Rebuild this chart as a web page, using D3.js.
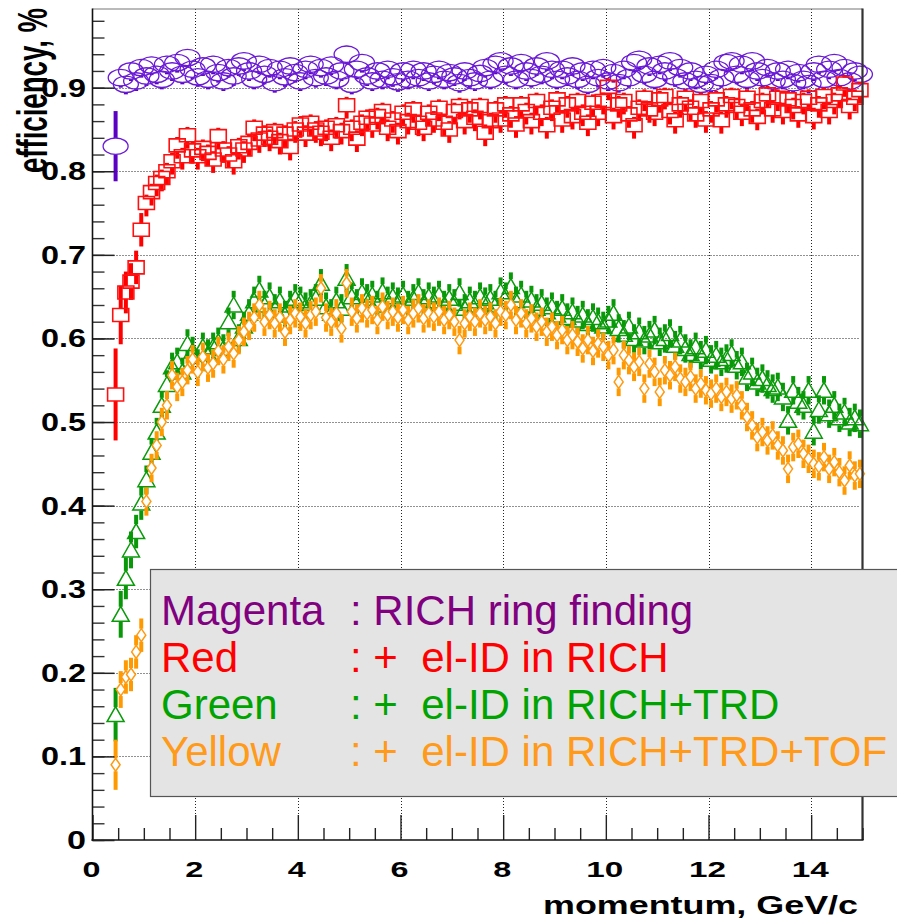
<!DOCTYPE html>
<html><head><meta charset="utf-8">
<script src="https://cdn.jsdelivr.net/npm/d3@7"></script>
<style>body{margin:0;background:#fff;} svg{display:block;} text{font-family:"Liberation Sans",Arial,Helvetica,sans-serif;}</style>
</head><body><svg id="c" width="897" height="921"></svg>
<script>
// ---------- data ----------
const momentum = [
0.45,0.55,0.65,0.75,0.85,0.95,1.05,1.15,1.25,1.35,
1.45,1.55,1.65,1.75,1.85,1.95,2.05,2.15,2.25,2.35,
2.45,2.55,2.65,2.75,2.85,2.95,3.05,3.15,3.25,3.35,
3.45,3.55,3.65,3.75,3.85,3.95,4.05,4.15,4.25,4.35,
4.45,4.55,4.65,4.75,4.85,4.95,5.05,5.15,5.25,5.35,
5.45,5.55,5.65,5.75,5.85,5.95,6.05,6.15,6.25,6.35,
6.45,6.55,6.65,6.75,6.85,6.95,7.05,7.15,7.25,7.35,
7.45,7.55,7.65,7.75,7.85,7.95,8.05,8.15,8.25,8.35,
8.45,8.55,8.65,8.75,8.85,8.95,9.05,9.15,9.25,9.35,
9.45,9.55,9.65,9.75,9.85,9.95,10.05,10.15,10.25,10.35,
10.45,10.55,10.65,10.75,10.85,10.95,11.05,11.15,11.25,11.35,
11.45,11.55,11.65,11.75,11.85,11.95,12.05,12.15,12.25,12.35,
12.45,12.55,12.65,12.75,12.85,12.95,13.05,13.15,13.25,13.35,
13.45,13.55,13.65,13.75,13.85,13.95,14.05,14.15,14.25,14.35,
14.45,14.55,14.65,14.75,14.85,14.95];

const effRingFinding = [
0.830,0.912,0.904,0.920,0.908,0.924,0.914,0.927,0.916,0.910,
0.928,0.920,0.930,0.916,0.936,0.922,0.913,0.926,0.910,0.928,
0.918,0.908,0.924,0.914,0.926,0.932,0.920,0.910,0.928,0.916,
0.924,0.906,0.922,0.913,0.926,0.918,0.908,0.922,0.928,0.912,
0.924,0.914,0.927,0.910,0.920,0.940,0.904,0.922,0.930,0.914,
0.908,0.920,0.910,0.922,0.913,0.907,0.920,0.910,0.922,0.912,
0.920,0.908,0.916,0.922,0.910,0.918,0.914,0.906,0.920,0.912,
0.908,0.917,0.924,0.910,0.928,0.932,0.916,0.926,0.910,0.930,
0.920,0.912,0.926,0.916,0.932,0.922,0.910,0.922,0.914,0.926,
0.910,0.920,0.904,0.922,0.912,0.924,0.908,0.918,0.906,0.922,
0.912,0.930,0.934,0.916,0.926,0.910,0.928,0.920,0.932,0.913,
0.924,0.908,0.920,0.910,0.904,0.916,0.906,0.922,0.912,0.930,
0.932,0.916,0.928,0.910,0.932,0.920,0.912,0.924,0.908,0.920,
0.910,0.922,0.906,0.918,0.910,0.905,0.920,0.928,0.910,0.922,
0.930,0.912,0.924,0.908,0.920,0.916];

const effRich = [
0.533,0.628,0.655,0.668,0.685,0.730,0.762,0.775,0.786,0.792,
0.800,0.812,0.831,0.818,0.843,0.825,0.818,0.828,0.822,0.814,
0.842,0.826,0.820,0.812,0.830,0.826,0.834,0.852,0.838,0.845,
0.840,0.848,0.836,0.845,0.829,0.850,0.856,0.845,0.858,0.850,
0.846,0.852,0.840,0.855,0.848,0.879,0.852,0.839,0.858,0.864,
0.856,0.866,0.872,0.852,0.862,0.848,0.870,0.860,0.874,0.858,
0.852,0.870,0.862,0.876,0.858,0.850,0.872,0.878,0.860,0.874,
0.864,0.878,0.846,0.860,0.874,0.862,0.880,0.868,0.856,0.880,
0.872,0.860,0.884,0.870,0.855,0.876,0.886,0.862,0.880,0.866,
0.884,0.870,0.858,0.882,0.870,0.884,0.901,0.866,0.880,0.884,
0.868,0.855,0.876,0.888,0.874,0.870,0.886,0.890,0.872,0.861,
0.880,0.888,0.876,0.868,0.884,0.862,0.874,0.886,0.861,0.880,
0.890,0.878,0.870,0.888,0.874,0.865,0.884,0.892,0.874,0.888,
0.872,0.886,0.878,0.868,0.884,0.888,0.866,0.880,0.890,0.872,
0.884,0.892,0.905,0.878,0.888,0.897];

const effRichTrd = [
0.150,0.270,0.313,0.347,0.369,0.403,0.431,0.464,0.488,0.520,
0.545,0.566,0.572,0.560,0.594,0.585,0.570,0.590,0.582,0.590,
0.596,0.588,0.620,0.640,0.600,0.615,0.630,0.645,0.658,0.640,
0.650,0.636,0.645,0.628,0.640,0.648,0.645,0.638,0.642,0.648,
0.666,0.638,0.630,0.645,0.636,0.672,0.650,0.642,0.655,0.648,
0.652,0.640,0.656,0.645,0.650,0.644,0.652,0.640,0.648,0.655,
0.642,0.650,0.645,0.652,0.640,0.648,0.642,0.655,0.636,0.645,
0.640,0.650,0.644,0.648,0.640,0.656,0.650,0.662,0.645,0.652,
0.640,0.646,0.636,0.642,0.632,0.638,0.628,0.636,0.625,0.632,
0.622,0.628,0.618,0.625,0.620,0.615,0.622,0.630,0.612,0.605,
0.615,0.600,0.608,0.598,0.604,0.610,0.596,0.600,0.606,0.592,
0.598,0.588,0.582,0.590,0.580,0.586,0.575,0.580,0.572,0.576,
0.582,0.568,0.572,0.554,0.560,0.548,0.552,0.545,0.540,0.542,
0.530,0.502,0.538,0.525,0.520,0.538,0.489,0.515,0.538,0.510,
0.520,0.505,0.512,0.500,0.505,0.498];

const effRichTrdTof = [
0.090,0.180,0.195,0.198,0.225,0.245,0.405,0.445,0.472,0.500,
0.520,0.556,0.542,0.548,0.562,0.575,0.560,0.578,0.565,0.570,
0.585,0.575,0.590,0.582,0.598,0.608,0.615,0.625,0.640,0.620,
0.628,0.618,0.625,0.608,0.622,0.630,0.626,0.618,0.628,0.632,
0.660,0.625,0.620,0.630,0.612,0.666,0.632,0.624,0.636,0.630,
0.634,0.622,0.638,0.628,0.632,0.625,0.634,0.622,0.630,0.636,
0.624,0.630,0.626,0.632,0.622,0.628,0.620,0.598,0.618,0.626,
0.620,0.630,0.622,0.626,0.618,0.632,0.628,0.640,0.622,0.630,
0.618,0.624,0.614,0.620,0.608,0.614,0.604,0.610,0.598,0.604,
0.596,0.588,0.598,0.585,0.594,0.590,0.580,0.586,0.548,0.580,
0.574,0.566,0.572,0.540,0.570,0.560,0.536,0.562,0.556,0.566,
0.552,0.548,0.554,0.540,0.546,0.538,0.534,0.540,0.530,0.536,
0.528,0.532,0.520,0.506,0.496,0.482,0.488,0.478,0.484,0.472,
0.466,0.444,0.470,0.474,0.462,0.456,0.450,0.447,0.458,0.444,
0.452,0.440,0.430,0.448,0.436,0.438];

// statistical errors: explicit values for the first (low-momentum) bins, then typical [low, high]
const errRingFindingFirst = [0.042];
const errRingFindingTypical = [0.012, 0.010];
const errRichFirst = [0.055, 0.035, 0.025, 0.022, 0.02, 0.02];
const errRichTypical = [0.016, 0.010];
const errRichTrdFirst = [0.032, 0.028, 0.025, 0.022, 0.02, 0.02];
const errRichTrdTypical = [0.017, 0.017];
const errRichTrdTofFirst = [0.03, 0.022, 0.02, 0.02, 0.02, 0.02];
const errRichTrdTofTypical = [0.017, 0.017];

const xTickLabels = [0, 2, 4, 6, 8, 10, 12, 14];
const yTickLabels = [0, 0.1, 0.2, 0.3, 0.4, 0.5, 0.6, 0.7, 0.8, 0.9];
const legendNames = ["Magenta", "Red", "Green", "Yellow"];
const legendTexts = [": RICH ring finding", ": +  el-ID in RICH", ": +  el-ID in RICH+TRD", ": +  el-ID in RICH+TRD+TOF"];

// ---------- drawing ----------
const svg = d3.select("#c");
const X0 = 92.5, X1 = 862.5, Y0 = 840, Y1 = 9;
const x = d3.scaleLinear([0, 15], [X0, X1]);
const y = d3.scaleLinear([0, 0.9941], [Y0, Y1]);

// grid
const grid = svg.append("g").attr("stroke", "#222").attr("stroke-width", 1).attr("stroke-dasharray", "1,2");
grid.selectAll(".gx").data(xTickLabels.filter(v => v > 0)).join("line")
  .attr("x1", d => Math.round(x(d)) + 0.5).attr("x2", d => Math.round(x(d)) + 0.5)
  .attr("y1", Y1).attr("y2", Y0);
grid.selectAll(".gy").data(yTickLabels.filter(v => v > 0)).join("line")
  .attr("y1", d => Math.round(y(d)) + 0.5).attr("y2", d => Math.round(y(d)) + 0.5)
  .attr("x1", X0).attr("x2", X1 - 4);

// markers
const shapes = {
  ellipse: (cx, cy) => `M${cx-12.5},${cy}A12.5,8.2 0 1,0 ${cx+12.5},${cy}A12.5,8.2 0 1,0 ${cx-12.5},${cy}Z`,
  square: (cx, cy) => `M${cx-8},${cy-6.5}h16v13h-16Z`,
  triangle: (cx, cy) => `M${cx},${cy-8}L${cx+8.5},${cy+7}L${cx-8.5},${cy+7}Z`,
  diamond: (cx, cy) => `M${cx},${cy-6.5}L${cx+4.5},${cy}L${cx},${cy+6.5}L${cx-4.5},${cy}Z`
};
const series = [
  {vals: effRingFinding, first: errRingFindingFirst, typ: errRingFindingTypical, color: "#6a1ad6", bar: "#5c00c4", shape: "ellipse", half: 8.2, sw: 1.3, fill: "none"},
  {vals: effRich, first: errRichFirst, typ: errRichTypical, color: "#ff1010", bar: "#ff0000", shape: "square", half: 6.5, sw: 1.6, fill: "none"},
  {vals: effRichTrd, first: errRichTrdFirst, typ: errRichTrdTypical, color: "#0a9a0a", bar: "#089808", shape: "triangle", half: 7.5, sw: 1.5, fill: "none"},
  {vals: effRichTrdTof, first: errRichTrdTofFirst, typ: errRichTrdTofTypical, color: "#ff9a10", bar: "#ff9900", shape: "diamond", half: 6.5, sw: 1.5, fill: "#fff"}
];

series.forEach(s => {
  const pts = s.vals.map((v, i) => {
    const lo = i < s.first.length ? s.first[i] : s.typ[0];
    const hi = i < s.first.length ? s.first[i] : s.typ[1];
    return {px: x(momentum[i]), py: y(v), top: y(v + hi), bot: y(v - lo)};
  });
  const g = svg.append("g");
  g.selectAll("line.up").data(pts.filter(p => p.py - p.top > s.half)).join("line")
    .attr("x1", p => p.px).attr("x2", p => p.px).attr("y1", p => p.top).attr("y2", p => p.py - s.half)
    .attr("stroke", s.bar).attr("stroke-width", 4);
  g.selectAll("line.dn").data(pts.filter(p => p.bot - p.py > s.half)).join("line")
    .attr("x1", p => p.px).attr("x2", p => p.px).attr("y1", p => p.py + s.half).attr("y2", p => p.bot)
    .attr("stroke", s.bar).attr("stroke-width", 4);
  g.selectAll("path").data(pts).join("path")
    .attr("d", p => shapes[s.shape](p.px, p.py))
    .attr("fill", s.fill).attr("stroke", s.color).attr("stroke-width", s.sw);
});

// frame
svg.append("line").attr("x1", X0).attr("x2", X1).attr("y1", Y1).attr("y2", Y1).attr("stroke", "#777").attr("stroke-width", 1.2);
svg.append("line").attr("x1", X1).attr("x2", X1).attr("y1", Y1 - 0.5).attr("y2", Y0).attr("stroke", "#333").attr("stroke-width", 2.2);

// x axis (ticks inside)
const xMinor = d3.range(0, 15.01, 0.5);
svg.append("g").attr("transform", `translate(0,${Y0})`)
  .call(d3.axisTop(x).tickValues(xMinor.filter(v => v % 2 !== 0)).tickSize(12).tickFormat(""))
  .call(g => g.select(".domain").remove())
  .selectAll("line").attr("stroke", "#222").attr("stroke-width", 1.4);
svg.append("g").attr("transform", `translate(0,${Y0})`)
  .call(d3.axisTop(x).tickValues(xTickLabels).tickSize(25).tickFormat(""))
  .call(g => g.select(".domain").remove())
  .selectAll("line").attr("stroke", "#222").attr("stroke-width", 1.4);
svg.append("line").attr("x1", X0 - 1).attr("x2", X1 + 1).attr("y1", Y0).attr("y2", Y0).attr("stroke", "#111").attr("stroke-width", 1.6);

// y axis
const yMinor = d3.range(0, 0.99, 0.02);
svg.append("g").attr("transform", `translate(${X0},0)`)
  .call(d3.axisRight(y).tickValues(yMinor).tickSize(12).tickFormat(""))
  .call(g => g.select(".domain").remove())
  .selectAll("line").attr("stroke", "#333").attr("stroke-width", 1.4);
svg.append("g").attr("transform", `translate(${X0},0)`)
  .call(d3.axisRight(y).tickValues(yTickLabels).tickSize(22).tickFormat(""))
  .call(g => g.select(".domain").remove())
  .selectAll("line").attr("stroke", "#222").attr("stroke-width", 1.5);
svg.append("line").attr("x1", X0).attr("x2", X0).attr("y1", Y1 - 0.5).attr("y2", Y0 + 0.8).attr("stroke", "#111").attr("stroke-width", 1.6);

// tick labels
svg.append("g").selectAll("text").data(yTickLabels).join("text")
  .attr("x", 86).attr("y", d => y(d) + 9)
  .attr("text-anchor", "end").attr("font-size", 25).attr("font-weight", "bold")
  .attr("textLength", d => d === 0 ? 19 : 45).attr("lengthAdjust", "spacingAndGlyphs")
  .text(d => d === 0 ? "0" : d3.format(".1f")(d));
svg.append("g").selectAll("text").data(xTickLabels).join("text")
  .attr("x", d => x(d) - 1).attr("y", 877)
  .attr("text-anchor", "middle").attr("font-size", 22).attr("font-weight", "bold")
  .attr("textLength", d => d >= 10 ? 37 : 18).attr("lengthAdjust", "spacingAndGlyphs")
  .text(d => d);

// axis titles
svg.append("text").attr("x", 858).attr("y", 914).attr("text-anchor", "end")
  .attr("font-size", 25).attr("font-weight", "bold")
  .attr("textLength", 315).attr("lengthAdjust", "spacingAndGlyphs")
  .text("momentum, GeV/c");
svg.append("text").attr("transform", "translate(47,8) scale(1.6,1) rotate(-90)")
  .attr("text-anchor", "end").attr("font-size", 27).attr("font-weight", "bold")
  .attr("textLength", 165).attr("lengthAdjust", "spacingAndGlyphs")
  .text("efficiency, %");

// legend
const legendColors = ["#800080", "#ff0000", "#00a300", "#ff9a1a"];
const lg = svg.append("g");
lg.append("rect").attr("x", 150.5).attr("y", 569.5).attr("width", 760).attr("height", 227)
  .attr("fill", "#e4e4e4").attr("stroke", "#555").attr("stroke-width", 1.2);
const rows = lg.selectAll("g.row").data(legendNames).join("g")
  .attr("transform", (d, i) => `translate(0,${625 + i * 47})`);
rows.append("text").attr("x", 161).attr("font-size", 42).attr("fill", (d, i) => legendColors[i]).text(d => d);
rows.append("text").attr("x", 350).attr("font-size", 42).style("white-space", "pre")
  .attr("fill", (d, i) => legendColors[i]).text((d, i) => legendTexts[i]);
</script>
</body></html>
